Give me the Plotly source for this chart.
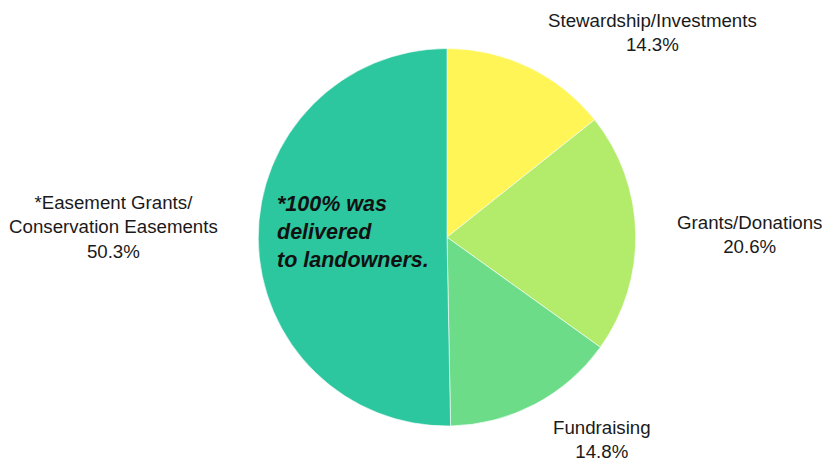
import plotly.graph_objects as go

labels = ["Stewardship/Investments", "Grants/Donations", "Fundraising",
          "*Easement Grants/<br>Conservation Easements"]
values = [14.3, 20.6, 14.8, 50.3]
colors = ["#FFF557", "#B3EC6B", "#6CDC89", "#2CC69F"]

# label anchor positions in pixels (center x, center y from top)
label_pos = [(652, 32.5), (749, 234), (602, 439), (113, 227)]

W, H = 822, 461

fig = go.Figure()
fig.add_trace(go.Pie(
    labels=labels,
    values=values,
    sort=False,
    direction="clockwise",
    rotation=0,
    marker=dict(colors=colors, line=dict(color="white", width=0.6)),
    textinfo="none",
    hoverinfo="label+percent",
    showlegend=False,
    domain=dict(x=[258 / W, 636 / W], y=[(H - 426) / H, (H - 48.5) / H]),
))

total = sum(values)
for lab, v, (px, py) in zip(labels, values, label_pos):
    fig.add_annotation(
        x=px / W, y=(H - py) / H, xref="paper", yref="paper",
        xanchor="center", yanchor="middle", showarrow=False,
        text=f"{lab}<br>{100 * v / total:.1f}%",
        font=dict(family="Liberation Sans, Arial, sans-serif", size=18.7, color="#1a1a1a"),
        align="center", borderpad=0,
    )

fig.add_annotation(
    x=275 / W, y=(H - 232.5) / H, xref="paper", yref="paper",
    xanchor="left", yanchor="middle", showarrow=False, align="left",
    text="<b><i>*100% was<br>delivered<br>to landowners.</i></b>",
    font=dict(family="Liberation Sans, Arial, sans-serif", size=21.5, color="#111111"),
)

fig.update_layout(
    width=W, height=H,
    margin=dict(l=0, r=0, t=0, b=0),
    paper_bgcolor="white", plot_bgcolor="white",
)

fig.write_html(
    "out.html",
    config={"displayModeBar": False},
    post_script="document.body.style.margin='0px';document.body.style.overflow='hidden';",
)
